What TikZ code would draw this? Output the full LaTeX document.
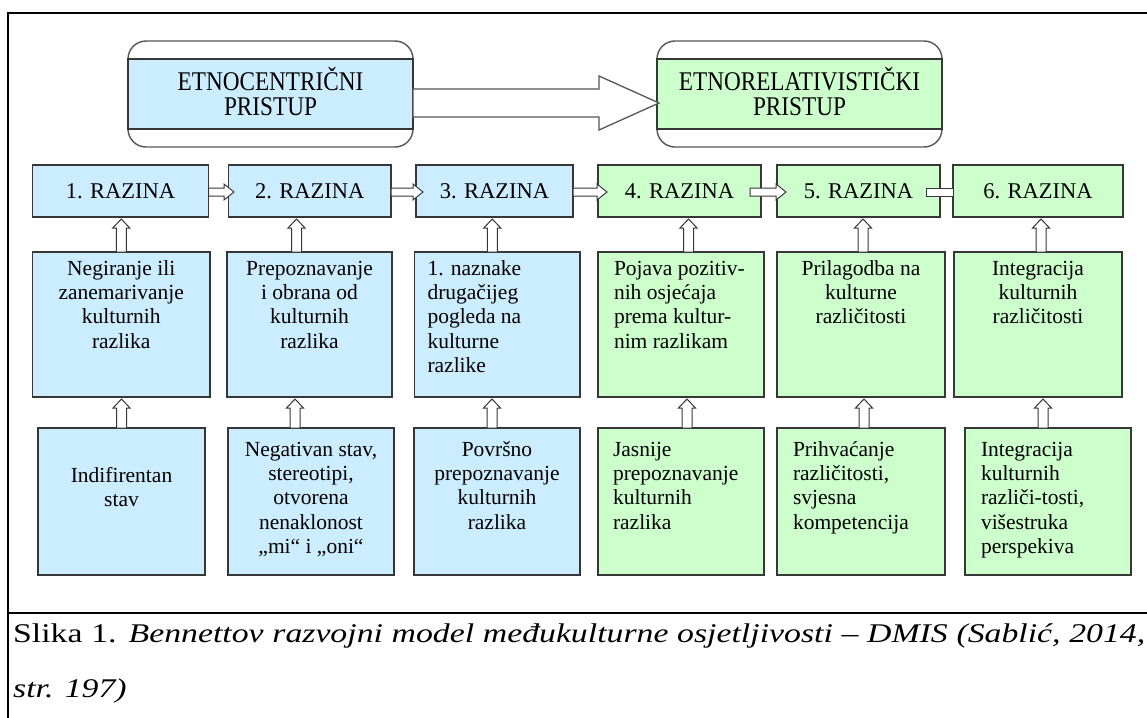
\documentclass[tikz,border=0pt]{standalone}
\usepackage{fontspec}
\setmainfont{Liberation Serif}
\newfontfamily\capfont[FakeStretch=1.25]{Liberation Serif}
\newfontfamily\topfont[FakeStretch=0.86]{Liberation Serif}
\usetikzlibrary{calc}
\definecolor{cblue}{RGB}{204,236,255}
\definecolor{cgreen}{RGB}{204,255,204}
\definecolor{cline}{RGB}{55,55,55}
\tikzset{
  frameline/.style={line width=2.6pt, draw=black},
  cellbox/.style={draw=cline, line width=1.2pt, inner ysep=0pt, outer sep=0pt, anchor=north west},
  bluefill/.style={fill=cblue},
  greenfill/.style={fill=cgreen},
  levelbox/.style={draw=cline, line width=1.2pt, inner sep=0pt, outer sep=0pt, anchor=north west, minimum height=52pt, font=\fontsize{22.5}{25}\selectfont},
  blockarrow/.style={draw=cline, fill=white, line width=1pt, line join=miter},
  bigarrow/.style={draw=cline!85, fill=white, line width=1.3pt, line join=miter},
  roundframe/.style={draw=cline!85, fill=white, line width=1.4pt, rounded corners=18pt, anchor=north west, inner sep=0pt, outer sep=0pt},
}
\newcommand\cellnode[8]{%
  \node[cellbox,#6,inner xsep=#7pt] (#1) at (#2,#3)
   {\parbox[t][\dimexpr #5pt-#3pt\relax][t]{\dimexpr #4pt-#2pt-#7pt-#7pt\relax}{\fontsize{21.5}{24.4}\selectfont #8}};}
\newcommand\levelnode[5]{%
  \node[levelbox,#4,minimum width={(#3-#2)*1pt}] (#1) at (#2,165) {#5};}
\newcommand\rowarrow[4]{%
  \draw[blockarrow] let \p1=($(#1.east)+(#3,0)$), \p2=($(#2.west)+(#4,0)$) in
   (\x1,\y1+3pt) -- (\x2-10pt,\y1+3pt) -- (\x2-10pt,\y1+7pt) -- (\x2,\y1-1pt)
   -- (\x2-10pt,\y1-9pt) -- (\x2-10pt,\y1-5pt) -- (\x1,\y1-5pt) -- cycle;}
\newcommand\uparr[3]{%
  \draw[blockarrow] let \p1=($(#1.north)+(#3,0)$), \p2=(#2.south) in
   (\x1-5pt,\y1) -- (\x1-5pt,\y2-11pt) -- (\x1-8.5pt,\y2-11pt) -- (\x1,\y2-2pt)
   -- (\x1+8.5pt,\y2-11pt) -- (\x1+5pt,\y2-11pt) -- (\x1+5pt,\y1) -- cycle;}
\begin{document}
\begin{tikzpicture}[x=1pt,y=-1pt]
\useasboundingbox (0,0) rectangle (1147,717);
% outer frame
\draw[frameline] (1150,13) -- (8,13) -- (8,720);
\draw[frameline] (8,613) -- (1150,613);

% top approach boxes
\node[roundframe, minimum width=285pt, minimum height=106pt] (etnoframe) at (128,41) {};
\node[cellbox,bluefill,inner xsep=0pt] (etno) at (128,59)
  {\parbox[t][70pt][t]{285pt}{\centering\topfont\fontsize{27}{25}\selectfont\rule{0pt}{31pt}ETNOCENTRIČNI\\PRISTUP\par}};
\node[roundframe, minimum width=285pt, minimum height=106pt] (etnorelframe) at (657,41) {};
\node[cellbox,greenfill,inner xsep=0pt] (etnorel) at (657,59)
  {\parbox[t][70pt][t]{285pt}{\centering\topfont\fontsize{27}{25}\selectfont\rule{0pt}{31pt}ETNORELATIVISTIČKI\\PRISTUP\par}};
\draw[bigarrow] let \p1=(etno.east), \p2=(etnorel.west) in
  (\x1,\y1+5pt) -- (\x2-58pt,\y1+5pt) -- (\x2-58pt,\y1+18pt) -- (\x2+2pt,\y1-9pt)
  -- (\x2-58pt,\y1-36pt) -- (\x2-58pt,\y1-23pt) -- (\x1,\y1-23pt) -- cycle;

% level row
\levelnode{r1}{32.5}{208.5}{bluefill}{1. RAZINA}
\levelnode{r2}{228.5}{391}{bluefill}{2. RAZINA}
\levelnode{r3}{416}{573}{bluefill}{3. RAZINA}
\levelnode{r4}{598}{761}{greenfill}{4. RAZINA}
\levelnode{r5}{777}{940}{greenfill}{5. RAZINA}
\levelnode{r6}{953}{1123}{greenfill}{6. RAZINA}

% middle row
\cellnode{m1}{32.5}{252}{210}{397}{bluefill}{4}{\centering\rule{0pt}{23pt}Negiranje ili\\zanemarivanje\\kulturnih\\razlika\par}
\cellnode{m2}{227}{252}{392}{397}{bluefill}{4}{\centering\rule{0pt}{23pt}Prepoznavanje\\i obrana od\\kulturnih\\razlika\par}
\cellnode{m3}{414.5}{252}{580}{397}{bluefill}{13}{\raggedright\rule{0pt}{23pt}1. naznake\\drugačijeg\\pogleda na\\kulturne\\razlike\par}
\cellnode{m4}{598}{252}{764}{397}{greenfill}{16}{\raggedright\rule{0pt}{23pt}Pojava pozitiv-\\nih osjećaja\\prema kultur-\\nim razlikam\par}
\cellnode{m5}{777}{252}{945}{397}{greenfill}{4}{\centering\rule{0pt}{23pt}Prilagodba na\\kulturne\\različitosti\par}
\cellnode{m6}{954}{252}{1122}{397}{greenfill}{4}{\centering\rule{0pt}{23pt}Integracija\\kulturnih\\različitosti\par}

% bottom row
\cellnode{b1}{38}{428}{205}{575}{bluefill}{4}{\centering\rule{0pt}{54pt}Indifirentan\\stav\par}
\cellnode{b2}{228}{428}{394}{575}{bluefill}{4}{\centering\rule{0pt}{28pt}Negativan stav,\\stereotipi,\\otvorena\\nenaklonost\\„mi“ i „oni“\par}
\cellnode{b3}{414}{428}{580}{575}{bluefill}{4}{\centering\rule{0pt}{28pt}Površno\\prepoznavanje\\kulturnih\\razlika\par}
\cellnode{b4}{598}{428}{764}{575}{greenfill}{15}{\raggedright\rule{0pt}{28pt}Jasnije\\prepoznavanje\\kulturnih\\razlika\par}
\cellnode{b5}{777}{428}{945}{575}{greenfill}{16}{\raggedright\rule{0pt}{28pt}Prihvaćanje\\različitosti,\\svjesna\\kompetencija\par}
\cellnode{b6}{965}{428}{1131}{575}{greenfill}{16}{\raggedright\rule{0pt}{28pt}Integracija\\kulturnih\\različi-tosti,\\višestruka\\perspekiva\par}

% arrows between levels
\rowarrow{r1}{r2}{0}{5.5}
\rowarrow{r2}{r3}{0}{7}
\rowarrow{r3}{r4}{0}{9}
\rowarrow{r4}{r5}{-11}{9}
\draw[blockarrow] ($(r5.east)+(-14,-3)$) rectangle ($(r6.west)+(0,5)$);

% up arrows
\uparr{m1}{r1}{0}
\uparr{m2}{r2}{-13}
\uparr{m3}{r3}{-5}
\uparr{m4}{r4}{7.5}
\uparr{m5}{r5}{2}
\uparr{m6}{r6}{3}
\uparr{b1}{m1}{0}
\uparr{b2}{m2}{-16}
\uparr{b3}{m3}{-5}
\uparr{b4}{m4}{6}
\uparr{b5}{m5}{3}
\uparr{b6}{m6}{-5}

% caption
\node[anchor=base west, inner sep=0pt] (caption) at (13,642)
  {\parbox[t]{1132pt}{\capfont\fontsize{27}{55}\selectfont Slika 1. \textit{Bennettov razvojni model međukulturne osjetljivosti – DMIS (Sablić, 2014,}\linebreak \textit{str. 197)}}};
\end{tikzpicture}
\end{document}
